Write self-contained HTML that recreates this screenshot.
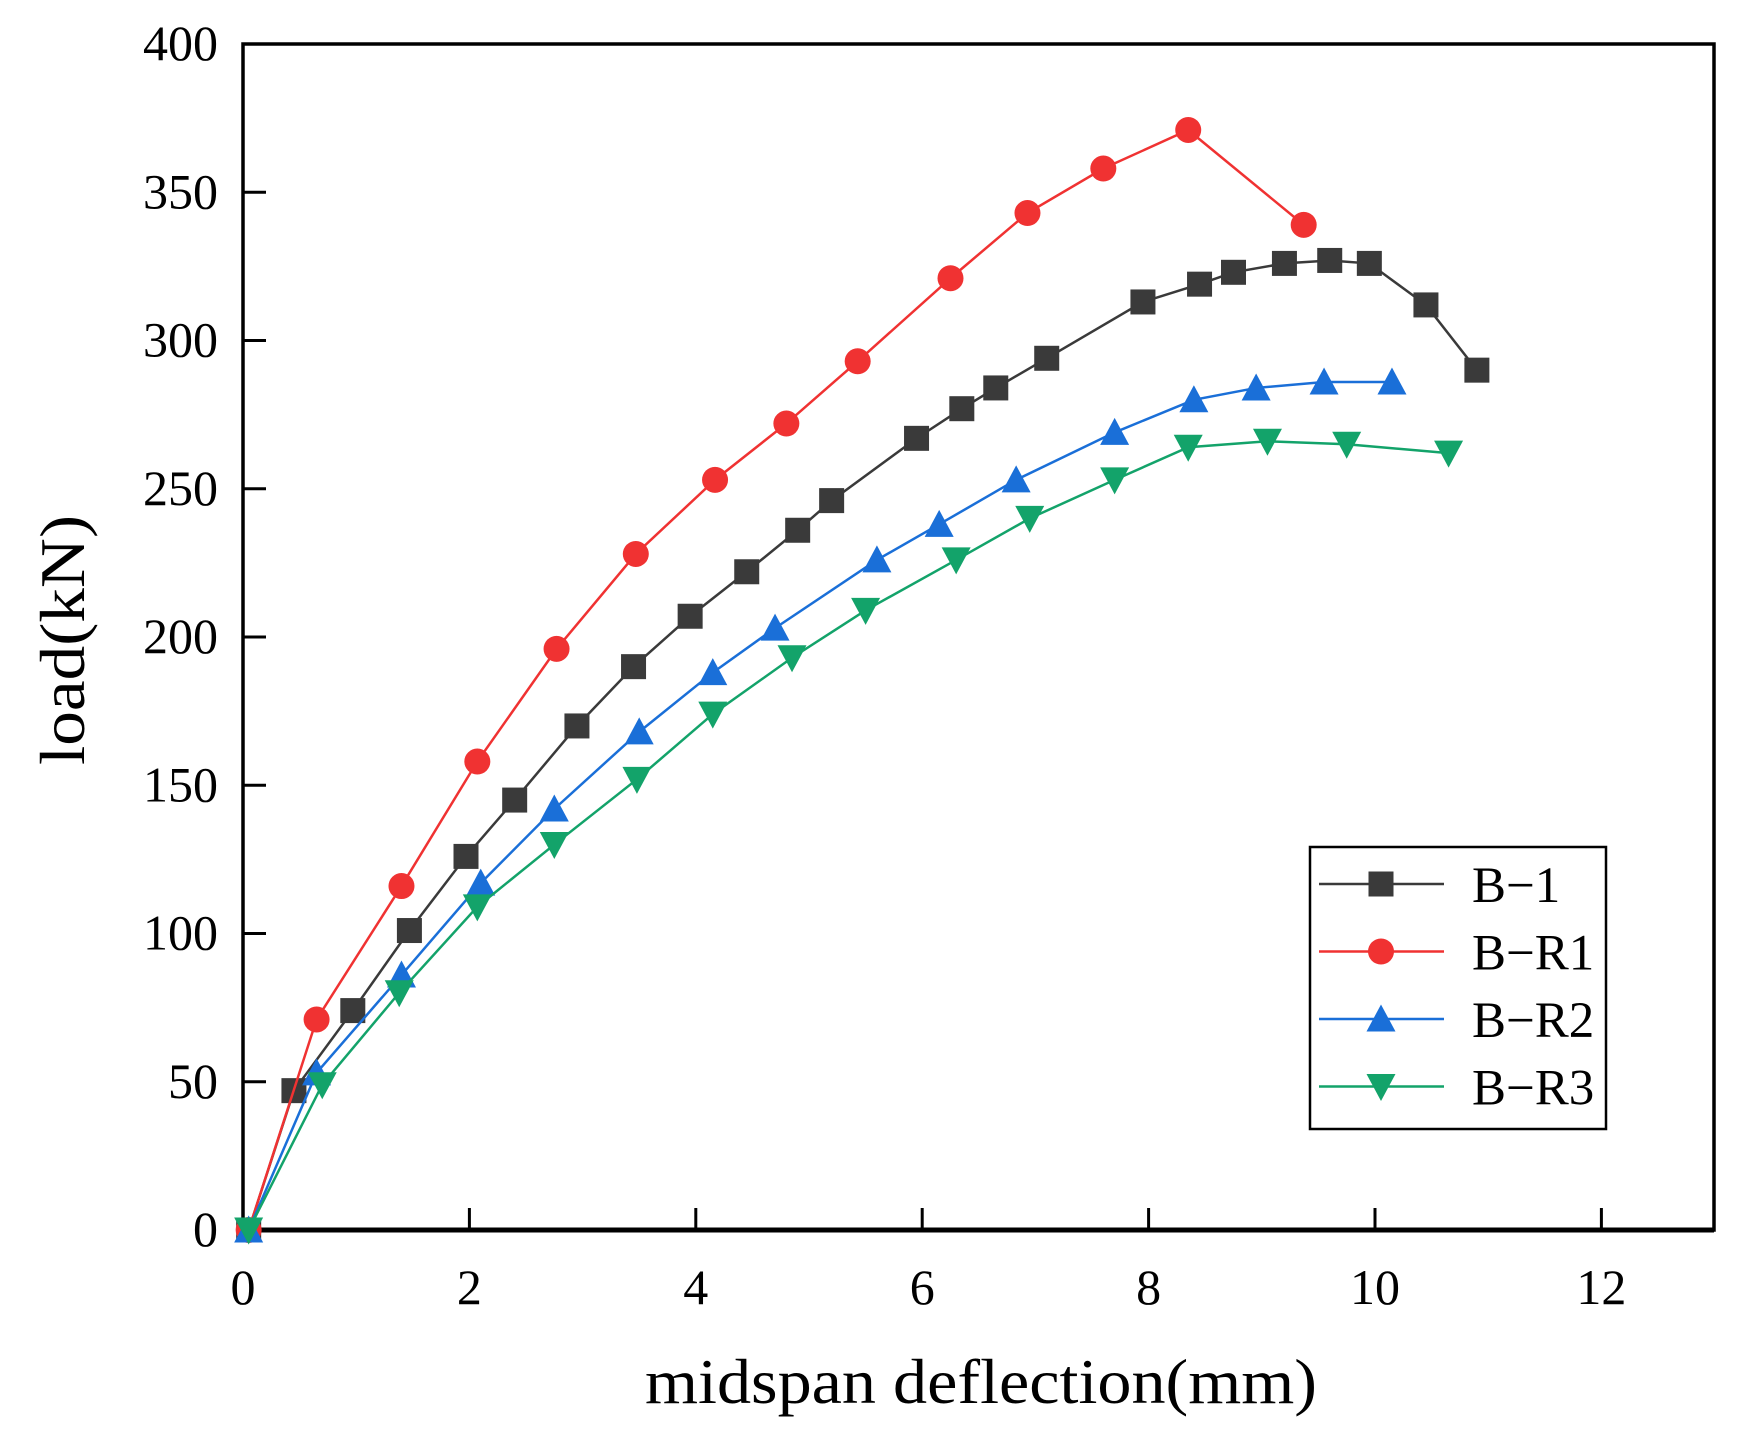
<!DOCTYPE html>
<html><head><meta charset="utf-8"><style>html,body{margin:0;padding:0;background:#fff}svg{display:block}</style></head>
<body>
<svg id="s" width="1750" height="1436" xmlns="http://www.w3.org/2000/svg" font-family="Liberation Serif, serif">
<rect width="1750" height="1436" fill="#fff"/>
<g id="g"></g>
</svg>
<script>
const X0=243,XS=113.2,Y0=1230,YS=2.965,XR=1714;
const fx=x=>X0+x*XS, fy=y=>Y0-y*YS;
const g=document.getElementById('g');
let h='';
for(let v=0;v<=400;v+=50){const y=fy(v);
 if(v>0&&v<400)h+=`<line x1="${X0}" y1="${y}" x2="${X0+23}" y2="${y}" stroke="#000" stroke-width="3"/>`;
 h+=`<text x="218" y="${y+16}" font-size="50" text-anchor="end">${v}</text>`;}
for(let v=0;v<=12;v+=2){const x=fx(v);
 if(v>0)h+=`<line x1="${x}" y1="${Y0}" x2="${x}" y2="${Y0-22}" stroke="#000" stroke-width="3"/>`;
 h+=`<text x="${x}" y="1304" font-size="50" text-anchor="middle">${v}</text>`;}
h+=`<rect x="${X0}" y="44" width="${XR-X0}" height="${Y0-44}" fill="none" stroke="#000" stroke-width="3.5"/>`;
h+=`<line x1="${X0}" y1="${Y0}" x2="${XR}" y2="${Y0}" stroke="#000" stroke-width="5"/>`;
h+=`<text x="981" y="1403" font-size="64" text-anchor="middle" textLength="672" lengthAdjust="spacingAndGlyphs">midspan deflection(mm)</text>`;
h+=`<text transform="translate(84,640) rotate(-90)" font-size="64" text-anchor="middle" textLength="250" lengthAdjust="spacingAndGlyphs">load(kN)</text>`;
const S=[
["#3a3a3a","sq",[[0.05,0],[0.45,47],[0.97,74],[1.47,101],[1.97,126],[2.4,145],[2.95,170],[3.45,190],[3.95,207],[4.45,222],[4.9,236],[5.2,246],[5.95,267],[6.35,277],[6.65,284],[7.1,294],[7.95,313],[8.45,319],[8.75,323],[9.2,326],[9.6,327],[9.95,326],[10.45,312],[10.9,290]]],
["#f03232","ci",[[0.05,0],[0.65,71],[1.4,116],[2.07,158],[2.77,196],[3.47,228],[4.17,253],[4.8,272],[5.43,293],[6.25,321],[6.93,343],[7.6,358],[8.35,371],[9.37,339]]],
["#1a6fd8","up",[[0.05,0],[0.65,53],[1.4,86],[2.1,117],[2.75,142],[3.5,168],[4.15,188],[4.7,203],[5.6,226],[6.15,238],[6.83,253],[7.7,269],[8.4,280],[8.95,284],[9.55,286],[10.15,286]]],
["#13a36a","dn",[[0.05,0],[0.7,49],[1.38,80],[2.07,109],[2.75,130],[3.48,152],[4.15,174],[4.85,193],[5.5,209],[6.3,226],[6.95,240],[7.7,253],[8.35,264],[9.05,266],[9.75,265],[10.65,262]]]];
function mk(t,x,y,c){const r=12.5;
 if(t=="sq")return `<rect x="${x-r}" y="${y-r}" width="${2*r}" height="${2*r}" fill="${c}"/>`;
 if(t=="ci")return `<circle cx="${x}" cy="${y}" r="${r+0.5}" fill="${c}"/>`;
 if(t=="up")return `<polygon points="${x},${y-r-2} ${x-r-2},${y+r} ${x+r+2},${y+r}" fill="${c}"/>`;
 return `<polygon points="${x},${y+r+2} ${x-r-2},${y-r} ${x+r+2},${y-r}" fill="${c}"/>`;}
S.forEach(([c,t,d])=>{h+=`<polyline fill="none" stroke="${c}" stroke-width="2.5" points="${d.map(p=>fx(p[0])+','+fy(p[1])).join(' ')}"/>`;
 d.forEach(p=>h+=mk(t,fx(p[0]),fy(p[1]),c));});
h+=`<rect x="1310" y="847" width="296" height="282" fill="#fff" stroke="#000" stroke-width="2.5"/>`;
const names=["B-1","B-R1","B-R2","B-R3"];
S.forEach(([c,t],i)=>{const y=884+i*67.5;
 h+=`<line x1="1319" y1="${y}" x2="1444" y2="${y}" stroke="${c}" stroke-width="2.5"/>`+mk(t,1381,y,c);
 h+=`<text x="1472" y="${y+18}" font-size="51">${names[i].replace('-','\u2212')}</text>`;});
g.innerHTML=h;
</script>
</body></html>
